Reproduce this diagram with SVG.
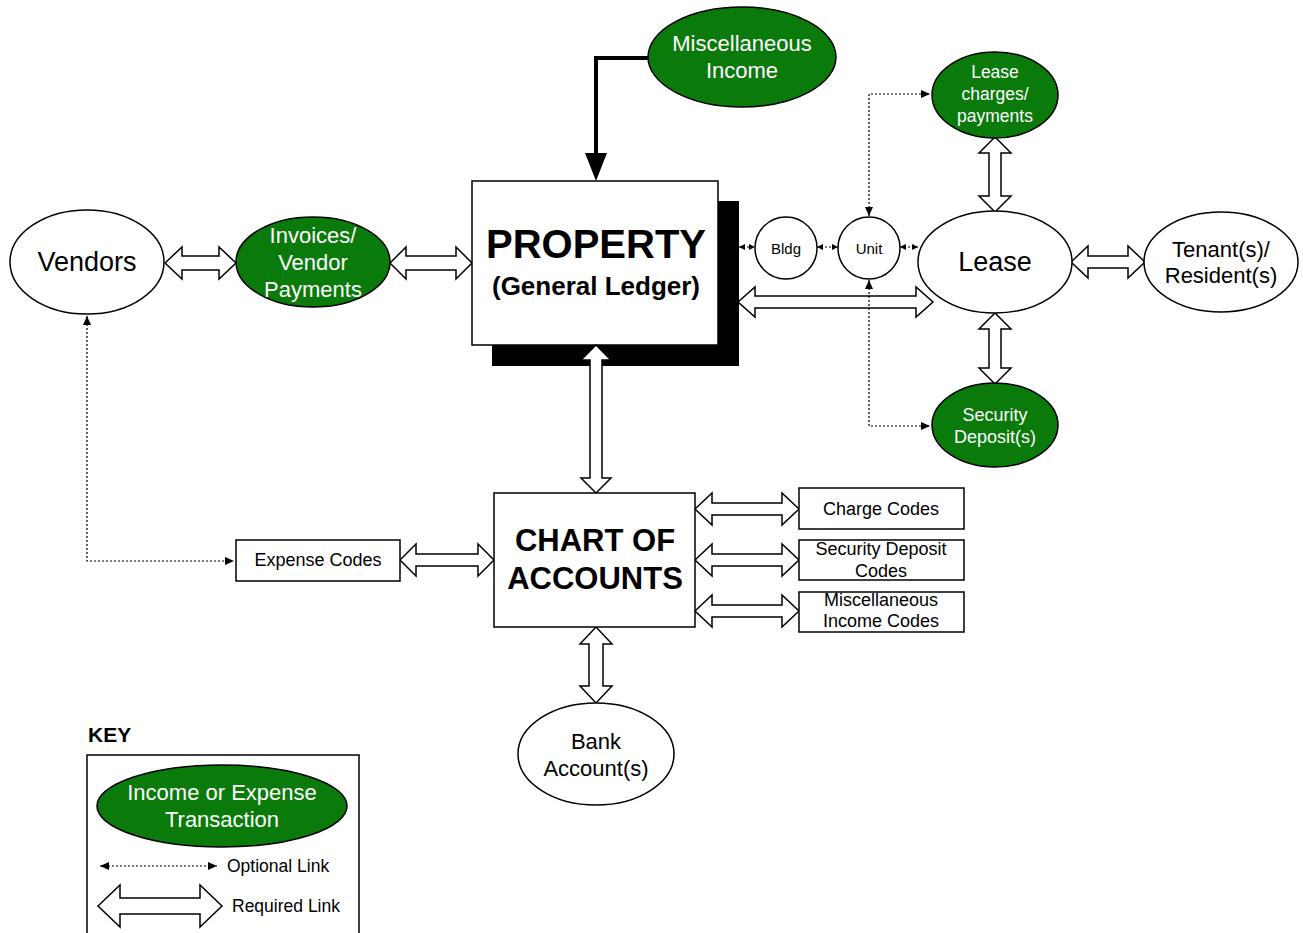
<svg xmlns="http://www.w3.org/2000/svg" width="1303" height="933" viewBox="0 0 1303 933">
<style>
text{font-family:"Liberation Sans",Arial,sans-serif;text-anchor:middle;dominant-baseline:central;fill:#000}
.w{fill:#fff;stroke:#000;stroke-width:1.5}
.g{fill:#0a7a0a;stroke:#000;stroke-width:1.5}
.gt{fill:#fff}
.da{fill:#fff;stroke:#000;stroke-width:1.5;stroke-linejoin:miter}
.dot{fill:none;stroke:#000;stroke-width:1.2;stroke-dasharray:2,2}
.b{font-weight:bold}
</style>
<defs>
<marker id="ah" markerUnits="userSpaceOnUse" markerWidth="9" markerHeight="8" refX="9" refY="4" orient="auto-start-reverse"><path d="M0,0 L9,4 L0,8 z" fill="#000"/></marker>
<marker id="as" markerUnits="userSpaceOnUse" markerWidth="6" markerHeight="6" refX="6" refY="3" orient="auto-start-reverse"><path d="M0,0 L6,3 L0,6 z" fill="#000"/></marker>
</defs>
<rect width="1303" height="933" fill="#fff"/>

<g id="connectors">
<path d="M648,58 H596 V156" fill="none" stroke="#000" stroke-width="4"/>
<polygon points="585,153 607,153 596,181" fill="#000"/>
<polygon class="da" points="165,263 182,247 182,256 219,256 219,247 236,263 219,279 219,270 182,270 182,279"/>
<polygon class="da" points="390,263 406,247 406,256 456,256 456,247 472,263 456,279 456,270 406,270 406,279"/>
<polygon class="da" points="738,302 755,287 755,296 916,296 916,287 933,302 916,317 916,308 755,308 755,317"/>
<polygon class="da" points="1071,262 1088,246 1088,256 1128,256 1128,246 1145,262 1128,278 1128,268 1088,268 1088,278"/>
<polygon class="da" points="995,137 1011,153 1001,153 1001,196 1011,196 995,212 979,196 989,196 989,153 979,153"/>
<polygon class="da" points="995,313 1011,329 1001,329 1001,368 1011,368 995,384 979,368 989,368 989,329 979,329"/>
<polygon class="da" points="400,560 416,544 416,554 478,554 478,544 494,560 478,576 478,566 416,566 416,576"/>
<polygon class="da" points="695,509 712,493 712,503 782,503 782,493 799,509 782,525 782,515 712,515 712,525"/>
<polygon class="da" points="695,560 712,544 712,554 782,554 782,544 799,560 782,576 782,566 712,566 712,576"/>
<polygon class="da" points="695,611 712,595 712,605 782,605 782,595 799,611 782,627 782,617 712,617 712,627"/>
<polygon class="da" points="596,627 612,644 603,644 603,686 612,686 596,703 580,686 589,686 589,644 580,644"/>
<path class="dot" d="M87,316 V561 H234" marker-start="url(#ah)" marker-end="url(#ah)"/>
<path class="dot" d="M869,216 V94 H930" marker-start="url(#ah)" marker-end="url(#ah)"/>
<path class="dot" d="M869,280 V426 H930" marker-start="url(#ah)" marker-end="url(#ah)"/>
<path class="dot" d="M739,247 H755" marker-start="url(#as)" marker-end="url(#as)"/>
<path class="dot" d="M817,247 H838" marker-start="url(#as)" marker-end="url(#as)"/>
<path class="dot" d="M900,247 H918" marker-start="url(#as)" marker-end="url(#as)"/>
</g>

<g id="property">
<rect x="492" y="201" width="247" height="165" fill="#000"/>
<rect x="472" y="181" width="246" height="164" class="w"/>
<text x="596" y="244" class="b" font-size="40">PROPERTY</text>
<text x="596" y="286" class="b" font-size="26">(General Ledger)</text>
</g>
<polygon class="da" points="596,345 611,360 602,360 602,478 611,478 596,493 581,478 590,478 590,360 581,360"/>

<g id="vendors"><ellipse cx="87" cy="262" rx="77" ry="52" class="w"/><text x="87" y="262" font-size="27">Vendors</text></g>
<g id="invoices"><ellipse cx="313" cy="262" rx="77" ry="45" class="g"/><text class="gt" x="313" y="235" font-size="22">Invoices/</text><text class="gt" x="313" y="262" font-size="22">Vendor</text><text class="gt" x="313" y="289" font-size="22">Payments</text></g>
<g id="misc-income"><ellipse cx="742" cy="57" rx="94" ry="50" class="g"/><text class="gt" x="742" y="43" font-size="22">Miscellaneous</text><text class="gt" x="742" y="70" font-size="22">Income</text></g>
<g id="lease-charges"><ellipse cx="995" cy="95" rx="63" ry="43" class="g"/><text class="gt" x="995" y="72" font-size="17.5">Lease</text><text class="gt" x="995" y="94" font-size="17.5">charges/</text><text class="gt" x="995" y="116" font-size="17.5">payments</text></g>
<g id="bldg"><circle cx="786" cy="248" r="31" class="w"/><text x="786" y="248" font-size="15">Bldg</text></g>
<g id="unit"><circle cx="869" cy="248" r="31" class="w"/><text x="869" y="248" font-size="15">Unit</text></g>
<g id="lease"><ellipse cx="995" cy="262" rx="77" ry="51" class="w"/><text x="995" y="262" font-size="27">Lease</text></g>
<g id="tenant"><ellipse cx="1221" cy="262" rx="77" ry="50" class="w"/><text x="1221" y="249" font-size="22">Tenant(s)/</text><text x="1221" y="275" font-size="22">Resident(s)</text></g>
<g id="security-deposit"><ellipse cx="995" cy="425" rx="63" ry="42" class="g"/><text class="gt" x="995" y="415" font-size="18">Security</text><text class="gt" x="995" y="437" font-size="18">Deposit(s)</text></g>
<g id="chart"><rect x="494" y="493" width="201" height="134" class="w"/><text x="595" y="540" class="b" font-size="31">CHART OF</text><text x="595" y="578" class="b" font-size="31">ACCOUNTS</text></g>
<g id="expense-codes"><rect x="236" y="540" width="164" height="41" class="w" stroke-width="1"/><text x="318" y="560" font-size="18">Expense Codes</text></g>
<g id="charge-codes"><rect x="799" y="488" width="165" height="41" class="w" stroke-width="1"/><text x="881" y="509" font-size="18">Charge Codes</text></g>
<g id="sd-codes"><rect x="799" y="540" width="165" height="40" class="w" stroke-width="1"/><text x="881" y="549" font-size="18">Security Deposit</text><text x="881" y="571" font-size="18">Codes</text></g>
<g id="mi-codes"><rect x="799" y="592" width="165" height="40" class="w" stroke-width="1"/><text x="881" y="600" font-size="18">Miscellaneous</text><text x="881" y="621" font-size="18">Income Codes</text></g>
<g id="bank"><ellipse cx="596" cy="754" rx="78" ry="51" class="w"/><text x="596" y="741" font-size="22">Bank</text><text x="596" y="768" font-size="22">Account(s)</text></g>

<g id="key">
<text x="88" y="734" class="b" font-size="21" style="text-anchor:start">KEY</text>
<rect x="87" y="755" width="272" height="190" class="w" stroke-width="1"/>
<ellipse cx="222" cy="806" rx="125" ry="41" class="g"/>
<text class="gt" x="222" y="792" font-size="22">Income or Expense</text>
<text class="gt" x="222" y="819" font-size="22">Transaction</text>
<path class="dot" d="M100,866 H217" marker-start="url(#ah)" marker-end="url(#ah)"/>
<text x="227" y="866" font-size="17.5" style="text-anchor:start">Optional Link</text>
<polygon class="da" points="98,906 120,885 120,898 200,898 200,885 222,906 200,927 200,914 120,914 120,927"/>
<text x="232" y="906" font-size="17.5" style="text-anchor:start">Required Link</text>
</g>
</svg>
